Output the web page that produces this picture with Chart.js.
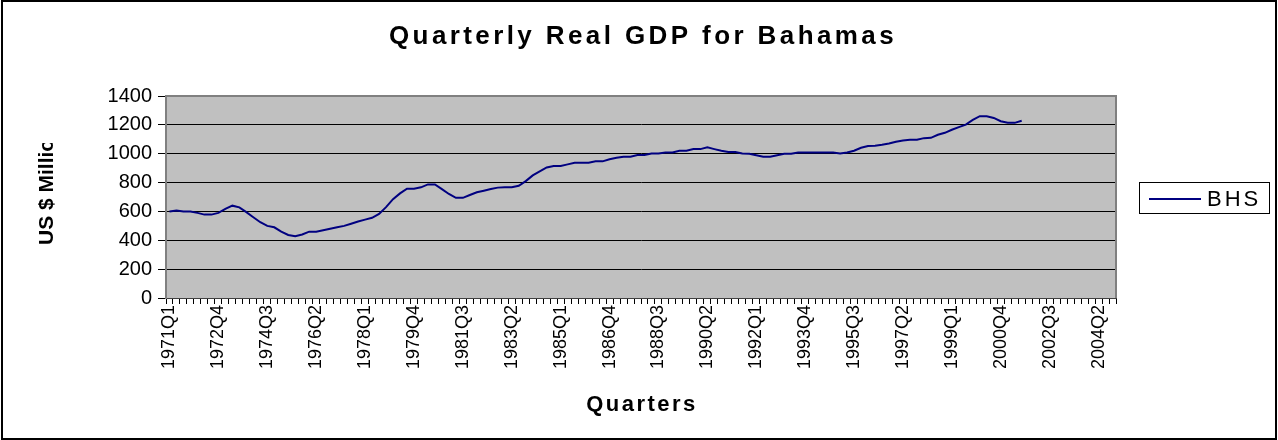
<!DOCTYPE html>
<html>
<head>
<meta charset="utf-8">
<title>Quarterly Real GDP for Bahamas</title>
<script src="https://cdn.jsdelivr.net/npm/chart.js@4.4.1/dist/chart.umd.min.js"></script>
<style>
  html, body { margin: 0; padding: 0; background: #fff; }
  #wrap { position: relative; width: 1278px; height: 440px; }
</style>
</head>
<body>
<div id="wrap"><canvas id="gdpChart" width="1278" height="440"></canvas></div>
<script>
// ── Data ──────────────────────────────────────────────────────────────────
const FIRST_YEAR = 1971;
const LAST_YEAR  = 2004;
const TICK_LABELS = ['1971Q1','1972Q4','1974Q3','1976Q2','1978Q1','1979Q4','1981Q3','1983Q2',
  '1985Q1','1986Q4','1988Q3','1990Q2','1992Q1','1993Q4','1995Q3','1997Q2','1999Q1','2000Q4',
  '2002Q3','2004Q2'];
const Y_TICKS = [0, 200, 400, 600, 800, 1000, 1200, 1400];

// BHS real GDP, US$ millions, 1971Q1 .. 2001Q3
const BHS = [
  600, 607, 600, 600, 590, 578, 578, 590, 618, 640,
  628, 595, 560, 525, 500, 490, 460, 437, 428, 440,
  460, 460, 470, 480, 490, 500, 515, 530, 543, 556,
  583, 630, 685, 725, 758, 758, 767, 787, 787, 755,
  721, 694, 694, 714, 733, 744, 755, 765, 767, 767,
  778, 810, 850, 877, 905, 915, 915, 926, 938, 938,
  938, 947, 947, 961, 972, 979, 979, 991, 991, 1002,
  1002, 1009, 1009, 1021, 1021, 1032, 1032, 1044, 1032, 1021,
  1012, 1012, 1002, 1000, 989, 979, 979, 989, 1000, 1000,
  1009, 1009, 1009, 1009, 1009, 1009, 1002, 1009, 1021, 1041,
  1053, 1055, 1062, 1071, 1083, 1092, 1097, 1097, 1108, 1110,
  1131, 1145, 1166, 1184, 1202, 1234, 1260, 1260, 1248, 1225,
  1214, 1214, 1228
];

const TITLE   = 'Quarterly Real GDP for Bahamas';
const X_TITLE = 'Quarters';
const Y_TITLE = 'US $ Millions';
const SERIES  = 'BHS';

const QUARTERS = [];
for (let y = FIRST_YEAR; y <= LAST_YEAR; y++) {
  for (let q = 1; q <= 4; q++) QUARTERS.push(y + 'Q' + q);
}

const FONT = 'Arial, "Liberation Sans", sans-serif';
const LINE_COLOR = '#000080';

// ── Plot background, borders, titles, legend ──────────────────────────────
const decor = {
  id: 'decor',
  beforeDraw(chart) {
    const { ctx, chartArea: a } = chart;
    ctx.save();
    ctx.fillStyle = '#c0c0c0';
    ctx.fillRect(a.left, a.top, a.right - a.left, a.bottom - a.top);
    ctx.restore();
  },
  afterDraw(chart) {
    const { ctx, chartArea: a } = chart;
    ctx.save();

    // plot frame (top + right)
    ctx.strokeStyle = '#808080';
    ctx.lineWidth = 2;
    ctx.beginPath();
    ctx.moveTo(a.left, a.top);
    ctx.lineTo(a.right, a.top);
    ctx.lineTo(a.right, a.bottom);
    ctx.stroke();

    // outer frame
    ctx.strokeStyle = '#000';
    ctx.lineWidth = 2;
    ctx.strokeRect(2, 1, 1274, 438);

    ctx.fillStyle = '#000';
    ctx.textBaseline = 'alphabetic';

    // chart title
    ctx.textAlign = 'center';
    ctx.font = 'bold 26px ' + FONT;
    ctx.letterSpacing = '3.4px';
    ctx.fillText(TITLE, 643, 44);

    // x title
    ctx.font = 'bold 22px ' + FONT;
    ctx.letterSpacing = '2.5px';
    ctx.fillText(X_TITLE, 642, 411);

    // y title (clipped at the top like the original)
    ctx.save();
    ctx.beginPath();
    ctx.rect(0, 143, 120, 200);
    ctx.clip();
    ctx.translate(53, 245);
    ctx.rotate(-Math.PI / 2);
    ctx.textAlign = 'left';
    ctx.font = 'bold 21px ' + FONT;
    ctx.letterSpacing = '0px';
    ctx.fillText(Y_TITLE, 0, 0);
    ctx.restore();

    // legend
    ctx.lineWidth = 1;
    ctx.strokeStyle = '#000';
    ctx.strokeRect(1139.5, 182.5, 130, 31);
    ctx.strokeStyle = LINE_COLOR;
    ctx.lineWidth = 2;
    ctx.beginPath();
    ctx.moveTo(1149, 199);
    ctx.lineTo(1201, 199);
    ctx.stroke();
    ctx.textAlign = 'left';
    ctx.font = '22px ' + FONT;
    ctx.letterSpacing = '3px';
    ctx.fillText(SERIES, 1207, 206);

    ctx.restore();
  }
};

// ── Chart ─────────────────────────────────────────────────────────────────
new Chart(document.getElementById('gdpChart'), {
  type: 'line',
  data: {
    labels: QUARTERS,
    datasets: [{
      label: SERIES,
      data: BHS,
      borderColor: LINE_COLOR,
      borderWidth: 2,
      pointRadius: 0,
      fill: false,
      tension: 0
    }]
  },
  options: {
    responsive: false,
    animation: false,
    devicePixelRatio: 1,
    layout: { padding: { left: 0, right: 162, top: 96, bottom: 0 } },
    plugins: {
      legend: { display: false },
      tooltip: { enabled: false },
      title: { display: false }
    },
    scales: {
      x: {
        type: 'category',
        offset: true,
        grid: { drawOnChartArea: false, drawTicks: true, tickLength: 6, color: '#000', offset: true },
        border: { display: true, color: '#404040', width: 1 },
        ticks: {
          autoSkip: false,
          minRotation: 90,
          maxRotation: 90,
          padding: 1,
          color: '#000',
          font: { family: FONT, size: 18 },
          callback(v) {
            const lab = this.getLabelForValue(v);
            return TICK_LABELS.includes(lab) ? lab : '';
          }
        },
        afterFit(s) { s.height = 142; }
      },
      y: {
        min: Y_TICKS[0],
        max: Y_TICKS[Y_TICKS.length - 1],
        afterBuildTicks(s) { s.ticks = Y_TICKS.map(v => ({ value: v })); },
        grid: { color: '#000', lineWidth: 1, tickLength: 8 },
        border: { display: true, color: '#808080', width: 2 },
        ticks: { color: '#000', padding: 6, font: { family: FONT, size: 20 }, callback: v => String(v) },
        afterFit(s) { s.width = 166; }
      }
    }
  },
  plugins: [decor]
});
</script>
</body>
</html>
